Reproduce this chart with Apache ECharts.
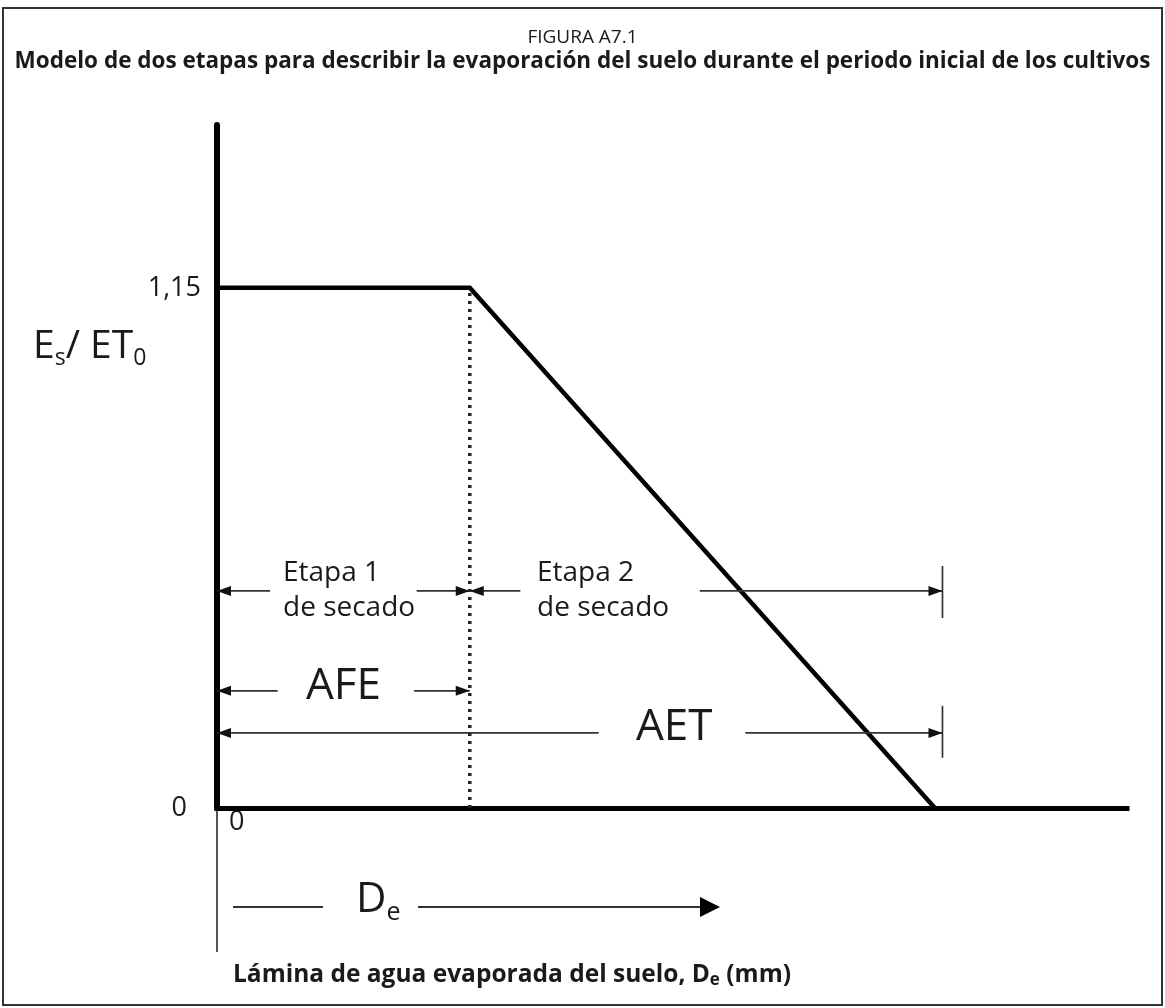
<!DOCTYPE html>
<html>
<head>
<meta charset="utf-8">
<title>Figura A7.1</title>
<script src="https://cdn.jsdelivr.net/npm/echarts@6/dist/echarts.min.js"></script>
<style>
html, body { margin: 0; padding: 0; background: #fff; }
#chart { width: 1165px; height: 1008px; }
</style>
</head>
<body>
<div id="chart"></div>
<script>
// two-stage soil evaporation model, Es/ET0 against De
const xMax = 36
const yMax = 1.51
const curveX = [0, 10, 28.4]
const curveY = [1.15, 1.15, 0]
const afeX = 10
const aetX = 28.7
const yTicks = [0, 1.15]
const yTickLabels = ['{z|0}', '1,15']

// dimension arrows: [from x, to x, y, head at from, head at to]
const arrowRows = [
  [0, 2.1, 0.48, 1, 0],
  [7.9, afeX, 0.48, 0, 1],
  [afeX, 12, 0.48, 1, 0],
  [19.1, aetX, 0.48, 0, 1],
  [0, 2.4, 0.259, 1, 0],
  [7.8, afeX, 0.259, 0, 1],
  [0, 15.1, 0.166, 1, 0],
  [20.9, aetX, 0.166, 0, 1]
]
// end bars at AET: [x, y from, y to]
const endBars = [
  [aetX, 0.42, 0.535],
  [aetX, 0.111, 0.226]
]

const font = 'Open Sans'
const ink = '#1a1a1a'

function head(p, dir) {
  return {
    type: 'polygon',
    shape: { points: [[p[0], p[1]], [p[0] - dir * 14, p[1] - 5], [p[0] - dir * 14, p[1] + 5]] },
    style: { fill: '#111' }
  }
}

function renderArrow(params, api) {
  const a = api.coord([api.value(0), api.value(2)])
  const b = api.coord([api.value(1), api.value(2)])
  const children = [{
    type: 'line',
    shape: { x1: a[0], y1: a[1], x2: b[0], y2: b[1] },
    style: { stroke: '#333', lineWidth: 1.7 }
  }]
  if (api.value(3)) children.push(head(a, -1))
  if (api.value(4)) children.push(head(b, 1))
  return { type: 'group', children: children }
}

function renderBar(params, api) {
  const a = api.coord([api.value(0), api.value(1)])
  const b = api.coord([api.value(0), api.value(2)])
  return {
    type: 'line',
    shape: { x1: a[0], y1: a[1], x2: b[0], y2: b[1] },
    style: { stroke: '#333', lineWidth: 1.7 }
  }
}

let myChart = echarts.init(document.getElementById('chart'))
let option = {
  backgroundColor: '#fff',
  animation: false,
  textStyle: { fontFamily: font, color: ink },
  title: [
    {
      text: 'FIGURA A7.1',
      left: 'center',
      top: 28,
      padding: 0,
      textStyle: { fontFamily: font, fontSize: 19, fontWeight: 'normal', color: ink }
    },
    {
      text: 'Modelo de dos etapas para describir la evaporación del suelo durante el periodo inicial de los cultivos',
      left: 'center',
      top: 50,
      padding: 0,
      textStyle: { fontFamily: font, fontSize: 22.5, fontWeight: 'bold', color: ink }
    }
  ],
  grid: {
    left: 217,
    right: 38,
    top: 125,
    bottom: 200
  },
  xAxis: {
    type: 'value',
    min: 0,
    max: xMax,
    axisLine: { lineStyle: { color: '#000', width: 5, cap: 'square' } },
    axisTick: { show: false },
    axisLabel: { show: false },
    splitLine: { show: false }
  },
  yAxis: {
    type: 'value',
    min: 0,
    max: yMax,
    interval: 1.15,
    axisLine: { show: true, lineStyle: { color: '#000', width: 6 } },
    axisTick: { show: false },
    splitLine: { show: false },
    axisLabel: {
      fontFamily: font,
      fontSize: 27,
      color: ink,
      margin: 16,
      rich: { z: { fontSize: 27, fontFamily: font, color: ink, padding: [0, 14, 0, 0] } },
      formatter: function (v) {
        const i = yTicks.indexOf(Math.round(v * 100) / 100)
        return i >= 0 ? yTickLabels[i] : ''
      }
    }
  },
  series: [
    {
      name: 'AFE',
      type: 'line',
      data: [[afeX, 0], [afeX, curveY[1]]],
      symbol: 'none',
      lineStyle: { color: '#222', width: 3.5, type: [3, 5] },
      z: 2
    },
    {
      name: 'Es/ET0',
      type: 'line',
      data: curveX.map((x, i) => [x, curveY[i]]),
      symbol: 'none',
      lineStyle: { color: '#000', width: 4.5, join: 'miter' },
      z: 3
    },
    {
      name: 'cotas',
      type: 'custom',
      renderItem: renderArrow,
      encode: { x: [0, 1], y: 2 },
      data: arrowRows,
      z: 4
    },
    {
      name: 'topes',
      type: 'custom',
      renderItem: renderBar,
      encode: { x: 0, y: [1, 2] },
      data: endBars,
      z: 4
    }
  ],
  graphic: [
    {
      type: 'rect',
      shape: { x: 3, y: 8, width: 1159, height: 997 },
      style: { fill: 'none', stroke: '#333', lineWidth: 2 },
      silent: true
    },
    {
      type: 'text',
      left: 33,
      top: 327,
      style: {
        text: 'E{s|s}/ ET{s|0}',
        font: '39px "Open Sans"',
        fill: ink,
        rich: { s: { fontSize: 23, fontFamily: font, verticalAlign: 'bottom', padding: [23, 0, 0, 0] } }
      }
    },
    {
      type: 'text',
      left: 283,
      top: 556,
      style: { text: 'Etapa 1\nde secado', font: '28px "Open Sans"', fill: ink, lineHeight: 35 }
    },
    {
      type: 'text',
      left: 537,
      top: 556,
      style: { text: 'Etapa 2\nde secado', font: '28px "Open Sans"', fill: ink, lineHeight: 35 }
    },
    {
      type: 'text',
      left: 306,
      top: 664,
      style: { text: 'AFE', font: '44px "Open Sans"', fill: ink }
    },
    {
      type: 'text',
      left: 636,
      top: 705,
      style: { text: 'AET', font: '44px "Open Sans"', fill: ink }
    },
    {
      type: 'line',
      shape: { x1: 217, y1: 810, x2: 217, y2: 952 },
      style: { stroke: '#555', lineWidth: 2 }
    },
    {
      type: 'text',
      left: 229,
      top: 809,
      style: { text: '0', font: '27px "Open Sans"', fill: ink }
    },
    {
      type: 'line',
      shape: { x1: 233, y1: 907, x2: 323, y2: 907 },
      style: { stroke: '#333', lineWidth: 2 }
    },
    {
      type: 'text',
      left: 356,
      top: 879,
      style: {
        text: 'D{s|e}',
        font: '42px "Open Sans"',
        fill: ink,
        rich: { s: { fontSize: 25, fontFamily: font, verticalAlign: 'bottom', padding: [25, 0, 0, 0] } }
      }
    },
    {
      type: 'line',
      shape: { x1: 418, y1: 907, x2: 704, y2: 907 },
      style: { stroke: '#333', lineWidth: 2 }
    },
    {
      type: 'polygon',
      shape: { points: [[720, 907], [700, 897], [700, 917]] },
      style: { fill: '#000' }
    },
    {
      type: 'text',
      left: 233,
      top: 963,
      style: {
        text: 'Lámina de agua evaporada del suelo, D{s|e} (mm)',
        font: 'bold 24.5px "Open Sans"',
        fill: ink,
        rich: { s: { fontSize: 17, fontWeight: 'bold', fontFamily: font, verticalAlign: 'bottom', padding: [9, 0, 0, 0] } }
      }
    }
  ]
}
myChart.setOption(option)
</script>
</body>
</html>
